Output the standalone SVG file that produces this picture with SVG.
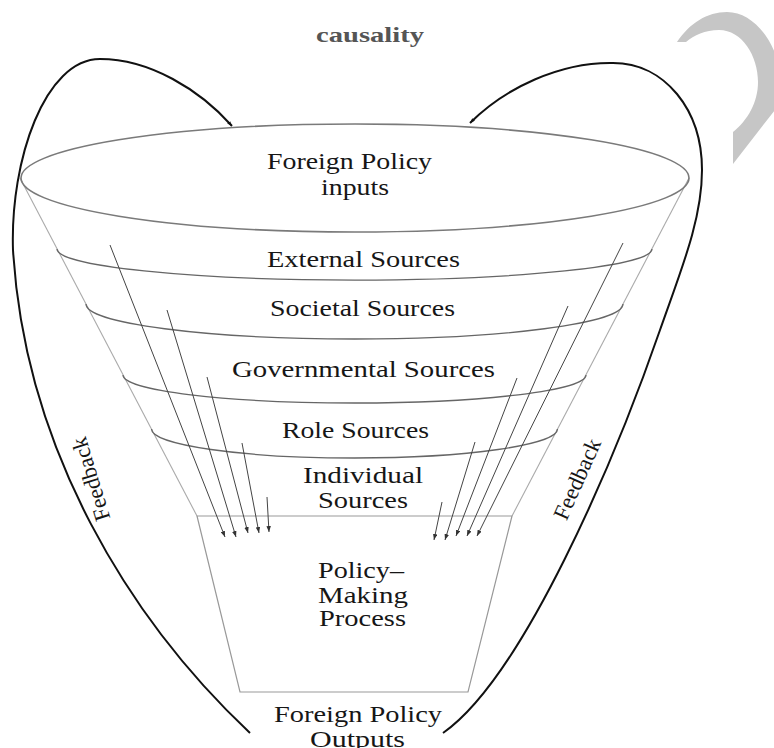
<svg xmlns="http://www.w3.org/2000/svg" width="774" height="748" viewBox="0 0 774 748">
  <defs>
    <style>
      .lbl { font-family: "Liberation Serif", "Times New Roman", serif; font-size: 22.5px; fill: #161616; }
      .title { font-family: "Liberation Serif", "Times New Roman", serif; font-size: 22px; font-weight: bold; fill: #555; }
      .rim { fill: none; stroke: #7a7a7a; stroke-width: 1.6; }
      .band { fill: none; stroke: #666; stroke-width: 1.3; }
      .side { fill: none; stroke: #aaa; stroke-width: 1.1; }
      .box { fill: none; stroke: #999; stroke-width: 1.2; }
      .flow { fill: none; stroke: #444; stroke-width: 1; marker-end: url(#tip); }
      .loop { fill: none; stroke: #111; stroke-width: 2; marker-end: url(#looptip); }
    </style>
    <marker id="tip" viewBox="0 0 8 6" refX="8" refY="3" markerWidth="6" markerHeight="4.5" markerUnits="userSpaceOnUse" orient="auto">
      <path d="M0,0 L8,3 L0,6 Z" fill="#333"/>
    </marker>
    <marker id="looptip" viewBox="0 0 8 6" refX="8" refY="3" markerWidth="5" markerHeight="4" markerUnits="userSpaceOnUse" orient="auto">
      <path d="M0,0 L8,3 L0,6 Z" fill="#111"/>
    </marker>
  </defs>

  <!-- heading line and page-corner ornament -->
  <text class="title" x="316" y="42" textLength="108" lengthAdjust="spacingAndGlyphs">causality</text>
  <path d="M677,42 C690,23 707,12 727,12 C750,12 770,34 778,62 L778,106 L733,164 L733,132 C748,120 758,102 758,82 C758,56 742,30 719,30 C705,30 694,35 686,42 Z" fill="#c6c6c6"/>

  <!-- funnel walls -->
  <g id="funnel">
    <line class="side" x1="20" y1="178" x2="197" y2="516"/>
    <line class="side" x1="689" y1="178" x2="512" y2="516"/>
  </g>

  <g id="inputs">
    <ellipse class="rim" cx="355" cy="178" rx="334" ry="54"/>
    <text class="lbl" x="267" y="169" textLength="165" lengthAdjust="spacingAndGlyphs">Foreign Policy</text>
    <text class="lbl" x="321" y="195" textLength="68" lengthAdjust="spacingAndGlyphs">inputs</text>
  </g>

  <g id="external">
    <path class="band" d="M57,249 A297,31 0 0 0 652,249"/>
    <text class="lbl" x="267" y="267" textLength="193" lengthAdjust="spacingAndGlyphs">External Sources</text>
  </g>

  <g id="societal">
    <path class="band" d="M86,304 A268.5,35 0 0 0 623,304"/>
    <text class="lbl" x="270" y="316" textLength="185" lengthAdjust="spacingAndGlyphs">Societal Sources</text>
  </g>

  <g id="governmental">
    <path class="band" d="M123,375 A231.5,28 0 0 0 586,375"/>
    <text class="lbl" x="232" y="377" textLength="263" lengthAdjust="spacingAndGlyphs">Governmental Sources</text>
  </g>

  <g id="role">
    <path class="band" d="M151.5,429 A203,29 0 0 0 557.5,429"/>
    <text class="lbl" x="282" y="438" textLength="147" lengthAdjust="spacingAndGlyphs">Role Sources</text>
  </g>

  <g id="individual">
    <text class="lbl" x="303" y="483" textLength="120" lengthAdjust="spacingAndGlyphs">Individual</text>
    <text class="lbl" x="318" y="508" textLength="90" lengthAdjust="spacingAndGlyphs">Sources</text>
  </g>

  <g id="process">
    <polygon class="box" points="197,516 512,516 468,692 240,692"/>
    <text class="lbl" x="318" y="578" textLength="86" lengthAdjust="spacingAndGlyphs">Policy–</text>
    <text class="lbl" x="318" y="603" textLength="90" lengthAdjust="spacingAndGlyphs">Making</text>
    <text class="lbl" x="319" y="626" textLength="87" lengthAdjust="spacingAndGlyphs">Process</text>
  </g>

  <g id="outputs">
    <text class="lbl" x="274" y="722" textLength="168" lengthAdjust="spacingAndGlyphs">Foreign Policy</text>
    <text class="lbl" x="310" y="747" textLength="95" lengthAdjust="spacingAndGlyphs">Outputs</text>
  </g>

  <g id="feedback-labels">
    <text class="lbl" text-anchor="middle" transform="translate(98,477) rotate(-107)">Feedback</text>
    <text class="lbl" text-anchor="middle" transform="translate(584,482) rotate(-66)">Feedback</text>
  </g>

  <g id="connectors">
    <!-- influences converging on the policy-making stage -->
    <line class="flow" x1="110" y1="245" x2="225" y2="537"/>
    <line class="flow" x1="167" y1="310" x2="236" y2="537"/>
    <line class="flow" x1="207" y1="377" x2="248" y2="533"/>
    <line class="flow" x1="242" y1="443" x2="259" y2="533"/>
    <line class="flow" x1="267" y1="497" x2="269" y2="532"/>
    <line class="flow" x1="623" y1="243" x2="477" y2="536"/>
    <line class="flow" x1="568" y1="306" x2="467" y2="536"/>
    <line class="flow" x1="517" y1="378" x2="456" y2="536"/>
    <line class="flow" x1="475" y1="442" x2="445" y2="540"/>
    <line class="flow" x1="442" y1="502" x2="434" y2="540"/>
    <!-- feedback loops from outputs back to inputs -->
    <path class="loop" d="M250,733 C130,620 25,450 13,250 C10,160 45,59 100,59 C150,59 200,90 232,126"/>
    <path class="loop" d="M443,733 C523,677 615,460 660,330 C681,270 702,220 702,170 C702,110 665,63 613,63 C560,62 505,88 470,123"/>
  </g>
</svg>
